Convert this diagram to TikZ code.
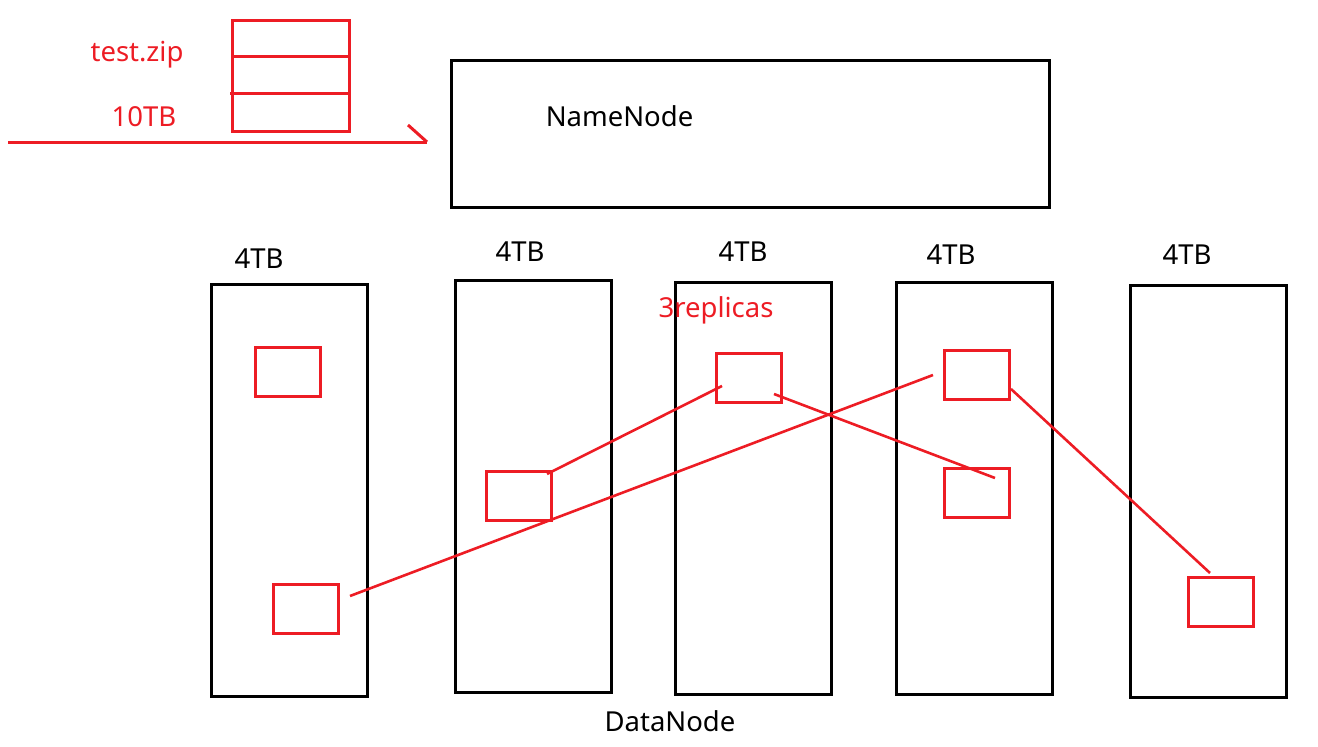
\documentclass[tikz,border=0pt]{standalone}
\usepackage{fontspec}
\setmainfont{Noto Sans}
\definecolor{pred}{HTML}{ED1C24}
\begin{document}
\begin{tikzpicture}[x=1pt,y=-1pt,
  blk/.style={draw=black,line width=3pt,inner sep=0pt,minimum width=156pt,minimum height=412pt},
  rbox/.style={draw=pred,line width=3pt,inner sep=0pt,minimum width=65pt,minimum height=49pt},
  rline/.style={draw=pred,line width=2.6pt},
  lbl/.style={font=\fontsize{27.5}{31}\selectfont,anchor=base,inner sep=0pt},
  rlbl/.style={lbl,text=pred}]
\useasboundingbox (0,0) rectangle (1318,747);
% file stack
\node[draw=pred,line width=3pt,inner sep=0pt,minimum width=117pt,minimum height=111pt] (stack) at (290.5,75.5) {};
\coordinate (d1l) at (232,56); \coordinate (d1r) at (349,56);
\coordinate (d2l) at (230,93); \coordinate (d2r) at (349,93);
\draw[pred,line width=3pt] (d1l) -- (d1r);
\draw[pred,line width=3pt] (d2l) -- (d2r);
\node[rlbl] (tz) at (137,61) {test.zip};
\node[rlbl] (tb) at (144,126) {10TB};
% arrow
\coordinate (as) at (8,142); \coordinate (ae) at (427,142); \coordinate (ab) at (408,125);
\draw[rline,line width=3pt] (as) -- (ae);
\draw[rline,line width=3pt] (ab) -- (ae);
% NameNode
\node[draw=black,line width=3pt,inner sep=0pt,minimum width=598pt,minimum height=147pt] (nn) at (750,133.5) {};
\node[lbl] (nnt) at (619.5,126) {NameNode};
% DataNodes
\node[blk] (c1) at (289,490) {};
\node[blk] (c2) at (533,486) {};
\node[blk] (c3) at (753,488) {};
\node[blk] (c4) at (974,488) {};
\node[blk] (c5) at (1208,491) {};
\node[lbl] (l1) at (259,268) {4TB};
\node[lbl] (l2) at (520,261) {4TB};
\node[lbl] (l3) at (743,261) {4TB};
\node[lbl] (l4) at (951,264) {4TB};
\node[lbl] (l5) at (1187,264) {4TB};
\node[rlbl] (rep) at (716,317) {3replicas};
\node[lbl] (dn) at (670,731) {DataNode};
% blocks
\node[rbox] (a) at (287.5,371.5) {};
\node[rbox] (b) at (306,608.5) {};
\node[rbox] (c) at (518.5,495.5) {};
\node[rbox] (d) at (748.5,377.5) {};
\node[rbox] (e) at (976.5,374.5) {};
\node[rbox] (f) at (976.5,492.5) {};
\node[rbox] (g) at (1220.5,601.5) {};
% replica links
\coordinate (p1) at (547,474); \coordinate (p2) at (722,386);
\coordinate (q1) at (774,394); \coordinate (q2) at (995,478);
\coordinate (r1) at (350,596); \coordinate (r2) at (933,375);
\coordinate (s1) at (1011,389); \coordinate (s2) at (1210,573);
\draw[rline] (p1) -- (p2);
\draw[rline] (q1) -- (q2);
\draw[rline] (r1) -- (r2);
\draw[rline] (s1) -- (s2);
\end{tikzpicture}
\end{document}
